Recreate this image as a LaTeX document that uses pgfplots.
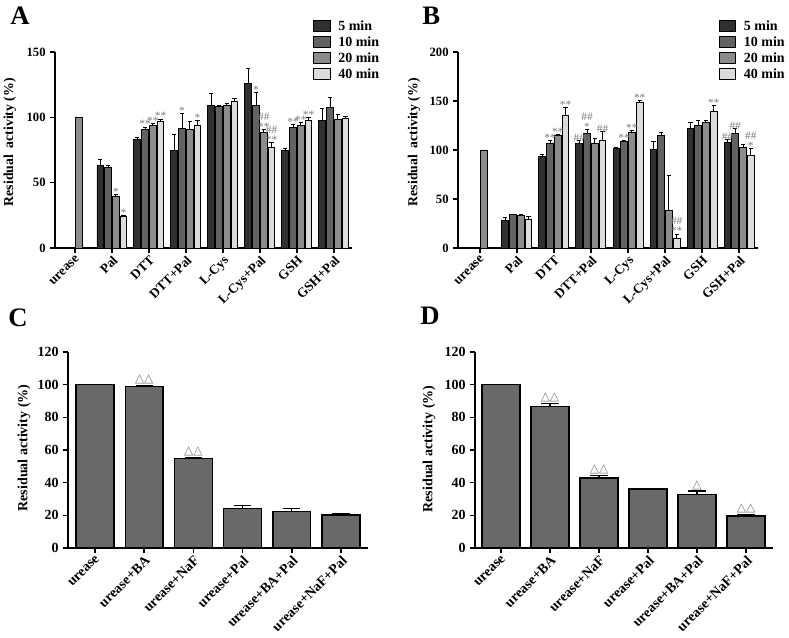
\documentclass[border=0pt]{standalone}
\usepackage{fontspec}
\setmainfont{Liberation Serif}
\newfontfamily\dejavu{DejaVu Sans}
\usepackage{pgfplots}
\pgfplotsset{compat=1.18}
\usepackage{pgfplotstable}

\definecolor{cA}{HTML}{303030}
\definecolor{cB}{HTML}{626262}
\definecolor{cC}{HTML}{8C8C8C}
\definecolor{cD}{HTML}{DCDCDC}
\definecolor{cBar}{HTML}{696969}
\definecolor{annot}{HTML}{7A7A7A}

% Panel A
\pgfplotstableread{
x y e
1 63.3 4.8
2 82.7 1.7
3 74.5 12.5
4 108.7 9.2
5 126 11.5
6 74.5 1.8
7 97.4 9.5
}\tAa
\pgfplotstableread{
x y e
1 61.7 1.8
2 90.6 2.0
3 91.8 11.0
4 108.2 1.0
5 109.4 9.7
6 92.1 2.3
7 107.4 7.9
}\tAb
\pgfplotstableread{
x y e
0 100 0
1 39.8 0.8
2 93.9 1.3
3 90.8 5.9
4 108.9 1.8
5 88.5 2.3
6 93.9 2.3
7 98.5 3.5
}\tAc
\pgfplotstableread{
x y e
1 24.5 0.5
2 97.2 1.5
3 94.1 3.6
4 112.2 2.1
5 77 3.6
6 97.7 2.0
7 99 1.8
}\tAd
% Panel B
\pgfplotstableread{
x y e
1 27.9 3.1
2 93.2 2.4
3 107.1 2.4
4 101.7 0.7
5 100.3 8.9
6 122.4 5.8
7 107.8 3.1
}\tBa
\pgfplotstableread{
x y e
1 34 0.7
2 107.1 2.4
3 117.3 3.4
4 108.2 1.3
5 115 2.7
6 125.2 4.8
7 116.7 5.4
}\tBb
\pgfplotstableread{
x y e
0 100 0
1 32.7 1.3
2 115 1.0
3 106.8 4.8
4 118 2.0
5 38.8 35.7
6 128.2 1.8
7 102.7 3.4
}\tBc
\pgfplotstableread{
x y e
1 28.6 3.4
2 135.4 8.1
3 109.9 8.8
4 149 1.3
5 10.2 4.1
6 139.1 6.5
7 94.6 7.1
}\tBd
% Panel C
\pgfplotstableread{
x y e
0 100 0
1 98.8 0.4
2 54.7 0.4
3 24.3 1.8
4 22.4 1.9
5 20.2 1.0
}\tC
% Panel D
\pgfplotstableread{
x y e
0 100 0
1 86.6 2.0
2 42.9 1.6
3 36 0.6
4 32.9 1.9
5 19.7 0.6
}\tD

\tikzset{
  ann/.style={font=\fontsize{8.5}{7.5}\selectfont, text=annot, anchor=south, inner sep=0pt, align=center, yshift=-0.8pt},
  tri/.style={font=\dejavu\fontsize{9}{9}\selectfont, text=annot, anchor=south, inner sep=1pt},
}

\pgfplotsset{
  panel/.style={
    scale only axis,
    axis lines=left,
    axis line style={-, line width=1.5pt, black},
    ybar,
    ymin=0,
    clip=false,
    tick align=outside,
    major tick length=3.5pt,
    tick style={line width=1.1pt, black},
    /pgf/number format/assume math mode=true,
    error bars/y dir=plus,
    error bars/y explicit,
  },
  timepanel/.style={
    panel,
    bar width=0.18,
    xtick={0,...,7},
    xticklabels={urease,Pal,DTT,DTT+Pal,L-Cys,L-Cys+Pal,GSH,GSH+Pal},
    x tick label style={rotate=45, anchor=north east, inner sep=1pt,
      font=\bfseries\fontsize{10}{10}\selectfont},
    y tick label style={font=\bfseries\fontsize{9.5}{9.5}\selectfont},
    ylabel={\bfseries Residual~~activity (\%)},
    ylabel style={font=\fontsize{10.3}{11}\selectfont, anchor=south},
    error bars/error bar style={line width=0.7pt, black},
    error bars/error mark options={rotate=90, line width=0.7pt, black, mark size=1.6pt},
    every axis plot/.append style={draw=black, line width=0.7pt},
    legend style={draw=none, fill=none, inner sep=0pt, row sep=1.6pt,
      font=\bfseries\fontsize{10.5}{11}\selectfont,
      nodes={inner sep=1.2pt, text height=7pt, text depth=1pt}},
    legend cell align=left,
    legend image code/.code={\draw[##1, line width=0.8pt] (0pt,-3.8pt) rectangle (12.5pt,4.4pt); \path (17pt,0pt);},
  },
  simplepanel/.style={
    panel,
    bar width=0.77,
    xtick={0,...,5},
    xticklabels={urease,urease+BA,urease+NaF,urease+Pal,urease+BA+Pal,urease+NaF+Pal},
    x tick label style={rotate=45, anchor=north east, inner sep=1pt,
      font=\bfseries\fontsize{10.5}{11}\selectfont},
    y tick label style={font=\bfseries\fontsize{10.5}{11}\selectfont},
    ymax=120, ytick={0,20,...,120},
    xmin=-0.55, xmax=5.55,
    ylabel={\bfseries Residual activity (\%)},
    ylabel style={font=\fontsize{10.5}{11}\selectfont, anchor=south},
    error bars/error bar style={line width=1pt, black},
    error bars/error mark options={rotate=90, line width=1pt, black, mark size=6.5pt},
  },
}

\begin{document}
\begin{tikzpicture}
\path[use as bounding box] (0pt,0pt) rectangle (591.75pt,478.5pt);
\coordinate (pA) at (41.25pt,292.5pt);
\coordinate (pB) at (343.5pt,292.5pt);
\coordinate (pC) at (51pt,67.5pt);
\coordinate (pD) at (356.25pt,67.5pt);

% ---------------- Panel A ----------------
\begin{axis}[timepanel,
  at={(pA)}, anchor=south west,
  width=222.75pt, height=147pt,
  xmin=-0.54, xmax=7.49, ymax=150, ytick={0,50,100,150},
  ylabel style={at={(axis description cs:-0.115,0.54)}},
  legend style={at={(axis description cs:0.868,1.168)}, anchor=north west},
]
\addplot[fill=cA, bar shift=-0.315] table[x=x, y=y, y error plus=e] {\tAa};
\addlegendentry{5 min}
\addplot[fill=cB, bar shift=-0.105] table[x=x, y=y, y error plus=e] {\tAb};
\addlegendentry{10 min}
\addplot[fill=cC, bar shift=0.105] table[x=x, y=y, y error plus=e] {\tAc};
\addlegendentry{20 min}
\addplot[fill=cD, bar shift=0.315] table[x=x, y=y, y error plus=e] {\tAd};
\addlegendentry{40 min}
\node[ann] at (axis cs:1.105,40.6) {*};
\node[ann] at (axis cs:1.315,25.0) {*};
\node[ann] at (axis cs:1.895,92.6) {**};
\node[ann] at (axis cs:2.105,95.2) {**};
\node[ann] at (axis cs:2.315,98.7) {**};
\node[ann] at (axis cs:2.895,102.8) {*};
\node[ann] at (axis cs:3.315,97.7) {*};
\node[ann] at (axis cs:4.895,119.1) {*};
\node[ann] at (axis cs:5.105,90.8) {\#\#\\**};
\node[ann] at (axis cs:5.315,80.6) {\#\#\\**};
\node[ann] at (axis cs:5.895,94.4) {**};
\node[ann] at (axis cs:6.105,96.2) {**};
\node[ann] at (axis cs:6.315,99.7) {**};
\end{axis}
\node[anchor=base west, font=\bfseries\fontsize{20}{20}\selectfont, inner sep=0pt] at (7.5pt,459.75pt) {A};

% ---------------- Panel B ----------------
\begin{axis}[timepanel,
  at={(pB)}, anchor=south west,
  width=225pt, height=147pt,
  xmin=-0.59, xmax=7.51, ymax=200, ytick={0,50,100,150,200},
  ylabel style={at={(axis description cs:-0.11,0.54)}},
  legend style={at={(axis description cs:0.868,1.168)}, anchor=north west},
]
\addplot[fill=cA, bar shift=-0.315] table[x=x, y=y, y error plus=e] {\tBa};
\addlegendentry{5 min}
\addplot[fill=cB, bar shift=-0.105] table[x=x, y=y, y error plus=e] {\tBb};
\addlegendentry{10 min}
\addplot[fill=cC, bar shift=0.105] table[x=x, y=y, y error plus=e] {\tBc};
\addlegendentry{20 min}
\addplot[fill=cD, bar shift=0.315] table[x=x, y=y, y error plus=e] {\tBd};
\addlegendentry{40 min}
\node[ann] at (axis cs:1.895,109.5) {**};
\node[ann] at (axis cs:2.105,116) {**};
\node[ann] at (axis cs:2.315,143.5) {**};
\node[ann] at (axis cs:2.685,109.5) {\#\#};
\node[ann] at (axis cs:2.895,120.7) {\#\#\\*};
\node[ann] at (axis cs:3.315,119) {\#\#};
\node[ann] at (axis cs:3.895,109.5) {**};
\node[ann] at (axis cs:4.105,120) {**};
\node[ann] at (axis cs:4.315,150.3) {**};
\node[ann] at (axis cs:5.315,14.3) {\#\#\\**};
\node[ann] at (axis cs:6.315,145.6) {**};
\node[ann] at (axis cs:6.685,110.9) {\#\#};
\node[ann] at (axis cs:6.895,122.1) {\#\#};
\node[ann] at (axis cs:7.315,101.7) {\#\#\\*};
\end{axis}
\node[anchor=base west, font=\bfseries\fontsize{20}{20}\selectfont, inner sep=0pt] at (316.5pt,459.75pt) {B};

% ---------------- Panel C ----------------
\begin{axis}[simplepanel,
  at={(pC)}, anchor=south west,
  width=225pt, height=147pt,
  ylabel style={at={(axis description cs:-0.11,0.51)}},
]
\addplot[fill=cBar, draw=black, line width=1.1pt, bar shift=0] table[x=x, y=y, y error plus=e] {\tC};
\node[tri] at (axis cs:1,99.2) {△△};
\node[tri] at (axis cs:2,55.1) {△△};
\end{axis}
\node[anchor=base west, font=\bfseries\fontsize{20}{20}\selectfont, inner sep=0pt] at (6pt,233.25pt) {C};

% ---------------- Panel D ----------------
\begin{axis}[simplepanel,
  at={(pD)}, anchor=south west,
  width=223.5pt, height=147pt,
  xmin=-0.53,
  ylabel style={at={(axis description cs:-0.117,0.505)}},
]
\addplot[fill=cBar, draw=black, line width=1.1pt, bar shift=0] table[x=x, y=y, y error plus=e] {\tD};
\node[tri] at (axis cs:1,88.6) {△△};
\node[tri] at (axis cs:2,44.5) {△△};
\node[tri] at (axis cs:4,34.8) {△};
\node[tri] at (axis cs:5,20.3) {△△};
\end{axis}
\node[anchor=base west, font=\bfseries\fontsize{20}{20}\selectfont, inner sep=0pt] at (315pt,234.75pt) {D};
\end{tikzpicture}
\end{document}
